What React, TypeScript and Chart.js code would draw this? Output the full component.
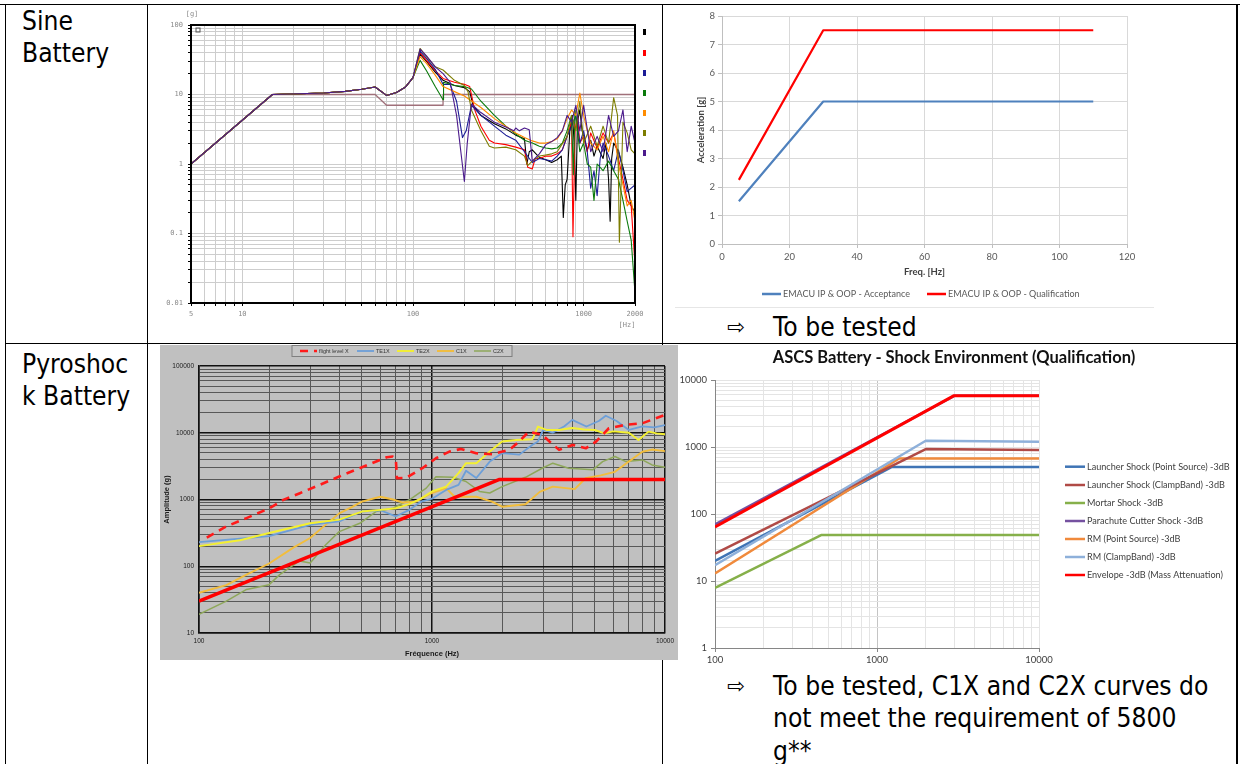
import React, { useEffect, useRef } from "react";
import { Chart, registerables } from "chart.js";

Chart.register(...registerables);

type Pt = [number, number];

/* ======================= DATA ======================= */

/* --- Sine Battery : measured responses (log-log) --- */
const SINE_X_LABELS = [5, 10, 100, 1000, 2000];
const SINE_Y_LABELS = [0.01, 0.1, 1, 10, 100];
const SINE_NAMES = ["Ch 1", "Ch 2", "Ch 3", "Ch 4", "Ch 5", "Ch 6", "Ch 7"];
const SINE_COLORS = ["#000000", "#ff0000", "#1c1c96", "#0b7a0b", "#ff8c00", "#7d7d00", "#4b1a8c"];
const SINE_PROFILE: Pt[] = [[5, 1], [15, 10], [60, 10], [70, 7], [150, 7], [150, 10], [2000, 10]];
const SINE_LOW: Pt[] = [[5, 1], [15, 10], [30, 10.5], [40, 11.1], [50, 11.9], [60, 12.8], [70, 9.7], [80, 10.7], [90, 12.7], [100, 17.5]];
const SINE_BLACK: Pt[] = [[110, 38], [120, 30], [135, 21], [150, 16], [175, 13.5], [200, 12.5], [215, 11], [225, 7], [250, 5], [300, 3.8], [350, 3.2], [400, 2.6], [450, 2.3], [465, 1.0], [480, 1.5], [500, 1.6], [550, 1.25], [600, 1.15], [650, 1.05], [700, 1.15], [740, 1.3], [760, 0.17], [780, 0.5], [800, 0.6], [830, 3], [860, 5], [880, 2], [900, 0.3], [920, 4], [950, 6], [980, 3], [1000, 2.5], [1050, 1.6], [1100, 2.2], [1150, 1.3], [1200, 1.8], [1300, 1.2], [1350, 2], [1400, 0.6], [1430, 0.15], [1460, 1.2], [1500, 2], [1600, 1.5], [1700, 0.9], [1800, 0.5], [1900, 0.25], [2000, 0.2]];
const SINE_RED: Pt[] = [[110, 40], [120, 31], [135, 22], [150, 17], [175, 15], [200, 14], [215, 13], [230, 6], [250, 3.5], [280, 2.2], [300, 2.0], [350, 1.9], [400, 1.75], [450, 1.6], [470, 0.9], [500, 0.85], [520, 1.2], [550, 1.2], [600, 1.3], [650, 1.3], [700, 1.4], [750, 1.6], [800, 2.5], [850, 4], [866, 0.09], [890, 3], [920, 5], [950, 2], [1000, 2.5], [1050, 1.5], [1100, 2.8], [1200, 1.7], [1300, 2.8], [1400, 2], [1500, 2.8], [1600, 1.2], [1700, 0.6], [1800, 0.3], [1900, 0.25], [2000, 0.035]];
const SINE_NAVY: Pt[] = [[110, 42], [120, 33], [135, 23], [150, 14], [165, 14], [180, 8], [195, 2.4], [205, 3], [220, 7], [250, 5], [300, 3.5], [350, 2.6], [400, 2.2], [450, 1.5], [500, 1.05], [550, 1.2], [600, 1.15], [650, 1.1], [700, 1.3], [750, 1.6], [800, 2.5], [850, 3.5], [900, 5], [950, 2], [1000, 3], [1050, 1.5], [1100, 0.45], [1150, 0.8], [1200, 0.35], [1250, 1.2], [1300, 2], [1400, 1.3], [1500, 0.8], [1600, 1.6], [1700, 0.8], [1800, 0.4], [1900, 0.45], [2000, 0.5]];
const SINE_GREEN: Pt[] = [[110, 31], [120, 22], [135, 13], [150, 8.4], [151, 15], [175, 13.5], [200, 13], [220, 12], [250, 8], [300, 5], [350, 3.5], [400, 2.7], [450, 2.2], [500, 2.0], [550, 1.8], [600, 1.7], [650, 1.65], [700, 1.7], [750, 2], [800, 3], [850, 5], [870, 0.7], [890, 6], [920, 3], [950, 1.5], [1000, 2], [1050, 1], [1100, 0.9], [1150, 0.3], [1200, 1], [1300, 0.8], [1400, 1.1], [1500, 0.8], [1600, 0.6], [1700, 0.3], [1800, 0.15], [1900, 0.08], [2000, 0.014]];
const SINE_ORANGE: Pt[] = [[110, 35], [120, 28], [135, 19], [150, 13], [175, 11], [200, 9.5], [250, 6.5], [300, 4.5], [350, 3.5], [400, 2.8], [450, 2.4], [500, 2.15], [550, 2.0], [600, 2.0], [650, 2.1], [700, 2.3], [750, 3], [800, 4.5], [850, 6], [900, 5], [950, 10.5], [1000, 5], [1050, 3], [1100, 2], [1200, 1.6], [1300, 2.5], [1400, 1.5], [1500, 3], [1600, 1], [1700, 0.5], [1800, 0.25], [1900, 0.3], [2000, 0.15]];
const SINE_OLIVE: Pt[] = [[110, 46], [120, 35], [135, 25], [150, 22.5], [175, 16], [200, 13.5], [210, 11], [220, 6], [250, 3], [280, 1.8], [300, 1.7], [350, 1.75], [400, 1.6], [450, 1.3], [470, 0.95], [500, 1.1], [550, 1.3], [600, 1.35], [650, 1.4], [700, 1.5], [800, 2.5], [850, 5], [900, 3], [950, 8], [1000, 2], [1100, 3.5], [1200, 1.8], [1300, 3.5], [1400, 2], [1500, 9], [1580, 5], [1620, 0.075], [1700, 4], [1800, 2.8], [1900, 1.6], [2000, 1.4]];
const SINE_PURPLE: Pt[] = [[110, 45], [120, 36], [135, 25], [150, 20], [165, 15], [180, 5], [200, 0.56], [208, 2], [220, 7.3], [250, 5.5], [300, 4], [350, 3.4], [390, 3.0], [400, 3.3], [420, 3.0], [450, 3.3], [480, 3.1], [500, 1.1], [550, 1.4], [600, 1.9], [650, 2.1], [700, 2.4], [750, 3], [800, 5], [850, 4], [900, 7], [950, 3], [1000, 7], [1100, 1.5], [1200, 2.5], [1300, 1.5], [1400, 5], [1500, 2.5], [1600, 3], [1700, 6], [1800, 1.5], [1900, 3.5], [2000, 2]];

/* --- Sine Battery : EMACU specification --- */
const ACC_FREQ = [5, 30, 110];
const ACC_ACCEPTANCE = [1.5, 5, 5];
const ACC_QUALIFICATION = [2.25, 7.5, 7.5];

/* --- Pyroshock Battery : SRS test results --- */
const PYRO_X_LABELS = [100, 1000, 10000];
const PYRO_Y_LABELS = [10, 100, 1000, 10000, 100000];
const PYRO_SPEC: Pt[] = [[100, 30], [1950, 2000], [10000, 2000]];
const PYRO_FLIGHT: Pt[] = [[108, 268], [131, 395], [160, 526], [201, 741], [230, 988], [271, 1244], [330, 1660], [400, 2208], [489, 2944], [576, 3706], [640, 4300], [679, 4397], [700, 3925], [707, 2085], [773, 2100], [909, 2944], [1040, 4150], [1188, 5224], [1332, 5725], [1546, 4935], [1813, 4770], [2150, 5537], [2367, 7379], [2604, 10400], [2975, 9287], [3195, 7379], [3512, 5537], [4013, 6575], [4585, 5870], [5059, 7379], [5743, 11670], [6750, 13100], [7996, 13870], [10000, 18480]];
const PYRO_TE1X: Pt[] = [[100, 230], [150, 260], [200, 283], [300, 417], [400, 469], [500, 660], [600, 690], [700, 560], [800, 700], [900, 930], [1000, 1030], [1150, 1390], [1300, 1660], [1400, 2700], [1550, 2100], [1770, 3700], [2000, 4950], [2370, 4700], [2700, 6600], [2850, 7400], [3000, 11000], [3300, 10000], [3700, 12500], [4000, 15600], [4600, 12400], [5200, 15000], [5570, 18000], [6200, 15000], [7000, 11000], [8000, 12500], [9000, 12000], [10000, 13000]];
const PYRO_TE2X: Pt[] = [[100, 200], [150, 245], [200, 315], [300, 440], [400, 500], [500, 660], [600, 700], [700, 740], [800, 850], [900, 1040], [1000, 1320], [1150, 1560], [1300, 2480], [1400, 3500], [1550, 3500], [1770, 5240], [2000, 7380], [2300, 7800], [2700, 8000], [2850, 12400], [3100, 11000], [3500, 11000], [4000, 11800], [4500, 11200], [5000, 11000], [5500, 9800], [6000, 10500], [7000, 10000], [7700, 7800], [8500, 10400], [9200, 9800], [10000, 9500]];
const PYRO_C1X: Pt[] = [[100, 40], [131, 52], [160, 75], [200, 110], [254, 190], [300, 265], [350, 420], [400, 620], [457, 780], [500, 930], [600, 1100], [680, 1000], [750, 900], [850, 930], [1000, 1250], [1150, 1480], [1250, 1100], [1550, 1100], [1810, 930], [2000, 780], [2520, 850], [2900, 1300], [3300, 1560], [4100, 1430], [4560, 2080], [5300, 2300], [6100, 2600], [7000, 3700], [8000, 5200], [8800, 5600], [10000, 5300]];
const PYRO_C2X: Pt[] = [[100, 19], [131, 30], [160, 45], [200, 53], [222, 75], [270, 120], [300, 112], [350, 210], [400, 330], [490, 440], [575, 660], [680, 740], [800, 990], [945, 1480], [1040, 2200], [1230, 2150], [1400, 1860], [1600, 1320], [1770, 1250], [2000, 1560], [2520, 2150], [2970, 2940], [3300, 3500], [3860, 2940], [4900, 2780], [5400, 3700], [6100, 4400], [6800, 3700], [8000, 3920], [8800, 3300], [10000, 3050]];

/* --- ASCS Battery - Shock Environment (Qualification) --- */
const ASCS_X_LABELS = [100, 1000, 10000];
const ASCS_Y_LABELS = [1, 10, 100, 1000, 10000];
const ASCS_LAUNCH_POINT: Pt[] = [[100, 20], [1236, 505], [10000, 505]];
const ASCS_LAUNCH_CLAMP: Pt[] = [[100, 25.7], [2000, 930], [10000, 900]];
const ASCS_MORTAR: Pt[] = [[100, 7.9], [452, 48.5], [10000, 48.5]];
const ASCS_PARACHUTE: Pt[] = [[100, 70], [3000, 5800], [10000, 5800]];
const ASCS_RM_POINT: Pt[] = [[100, 13], [1370, 675], [10000, 675]];
const ASCS_RM_CLAMP: Pt[] = [[100, 17.2], [2000, 1240], [10000, 1200]];
const ASCS_ENVELOPE: Pt[] = [[100, 64], [2970, 5800], [10000, 5800]];

/* --- document text --- */
const LABEL_SINE = ["Sine", "Battery"];
const LABEL_PYRO = ["Pyroshoc", "k Battery"];
const NOTE_TOP = ["To be tested"];
const NOTE_BOTTOM = ["To be tested, C1X and C2X curves do", "not meet the requirement of 5800", "g**"];

/* ======================= HELPERS ======================= */

const MONO = "'DejaVu Sans Mono', monospace";
const ARIAL = "'Liberation Sans', Arial, sans-serif";
const CAL = "Lato, 'Open Sans', sans-serif";
const BODY = "'DejaVu Sans', Verdana, sans-serif";

const toXY = (pts: Pt[]) => pts.map(([x, y]) => ({ x, y }));

function logGridValues(min: number, max: number): number[] {
  const out: number[] = [];
  const e0 = Math.floor(Math.log10(min) + 1e-9);
  const e1 = Math.ceil(Math.log10(max) - 1e-9);
  for (let e = e0; e <= e1; e++) {
    for (let m = 1; m < 10; m++) {
      const v = parseFloat((m * Math.pow(10, e)).toPrecision(6));
      if (v >= min * (1 - 1e-9) && v <= max * (1 + 1e-9)) out.push(v);
    }
  }
  return out;
}
const isDecade = (v: number) => Math.abs(Math.log10(v) - Math.round(Math.log10(v))) < 1e-6;

function logAxis(p: any) {
  const val = (c: any) => (c && c.tick ? c.tick.value : 1);
  return {
    type: "logarithmic",
    min: p.min,
    max: p.max,
    afterBuildTicks: (s: any) => {
      s.ticks = logGridValues(p.min, p.max).map((v) => ({ value: v }));
    },
    afterFit: (s: any) => {
      if (p.horizontal) s.height = p.size;
      else s.width = p.size;
    },
    ticks: {
      autoSkip: false,
      maxRotation: 0,
      minRotation: 0,
      padding: p.pad,
      font: p.font,
      color: p.color,
      callback: (v: number) => (p.labels.includes(v) ? String(v) : ""),
    },
    grid: {
      color: (c: any) => p.grid(val(c)),
      lineWidth: (c: any) => (p.gridW ? p.gridW(val(c)) : 1),
      drawTicks: p.tickLen > 0,
      tickLength: p.tickLen,
      tickWidth: 1,
      tickColor: (c: any) => (p.tick ? p.tick(val(c)) : p.grid(val(c))),
    },
    border: p.border,
    title: p.title || { display: false },
  };
}

function baseOptions(padding: any) {
  return {
    responsive: false,
    animation: false,
    events: [],
    layout: { padding, autoPadding: false },
    plugins: { legend: { display: false }, tooltip: { enabled: false }, title: { display: false } },
    elements: { point: { radius: 0 }, line: { tension: 0, borderJoinStyle: "round" } },
  };
}

function line(label: string, pts: Pt[], color: string, width: number, extra: any = {}) {
  return { label, data: toXY(pts), borderColor: color, backgroundColor: color, borderWidth: width, pointRadius: 0, fill: false, ...extra };
}

function overlay(cfg: any) {
  return {
    id: "overlay",
    beforeDraw(chart: any) {
      if (!cfg.background) return;
      const c = chart.ctx;
      c.save();
      c.fillStyle = cfg.background;
      c.fillRect(0, 0, chart.width, chart.height);
      c.restore();
    },
    afterDraw(chart: any) {
      const c = chart.ctx;
      const a = chart.chartArea;
      c.save();
      if (cfg.frame) {
        c.strokeStyle = cfg.frame.color;
        c.lineWidth = cfg.frame.width;
        c.strokeRect(a.left, a.top, a.right - a.left, a.bottom - a.top);
      }
      if (cfg.marks) {
        cfg.marks.forEach((m: any) => {
          c.strokeStyle = m.color;
          c.lineWidth = 1;
          c.strokeRect(m.x, m.y, m.w, m.h);
        });
      }
      if (cfg.box) {
        const b = cfg.box;
        c.fillStyle = b.fill;
        c.fillRect(b.x, b.y, b.w, b.h);
        c.strokeStyle = b.stroke;
        c.lineWidth = 1;
        c.strokeRect(b.x, b.y, b.w, b.h);
      }
      if (cfg.legend) {
        const L = cfg.legend;
        L.items.forEach((it: any) => {
          const ds = chart.data.datasets[it.ds];
          c.save();
          c.strokeStyle = ds.borderColor;
          c.lineWidth = L.lineWidth || ds.borderWidth;
          c.setLineDash(ds.borderDash || []);
          c.beginPath();
          c.moveTo(it.x, it.y);
          c.lineTo(it.x + L.len, it.y);
          c.stroke();
          c.restore();
          c.fillStyle = L.color;
          c.font = L.font;
          c.textAlign = "left";
          c.textBaseline = "middle";
          c.fillText(ds.label, it.x + L.len + L.gap, it.y);
        });
      }
      if (cfg.squares) {
        const S = cfg.squares;
        S.ys.forEach((y: number, i: number) => {
          c.fillStyle = chart.data.datasets[i].borderColor;
          c.fillRect(S.x, y, S.w, S.h);
        });
      }
      if (cfg.texts) {
        cfg.texts.forEach((t: any) => {
          c.font = t.font;
          c.fillStyle = t.color;
          c.textAlign = t.align || "center";
          c.textBaseline = "middle";
          c.fillText(t.text, t.x, t.y);
        });
      }
      c.restore();
    },
  };
}

/* ======================= CHART CONFIGS ======================= */

function sineConfig() {
  const tails = [SINE_BLACK, SINE_RED, SINE_NAVY, SINE_GREEN, SINE_ORANGE, SINE_OLIVE, SINE_PURPLE];
  const datasets: any[] = tails.map((t, i) => line(SINE_NAMES[i], [...SINE_LOW, ...t], SINE_COLORS[i], 1.1, { order: 7 - i }));
  datasets.push(line("Profile", SINE_PROFILE, "#a0707a", 1.3, { order: 10 }));
  const common = { font: { family: MONO, size: 7 }, color: "#8a8a8a", tickLen: 3, grid: () => "#cdcdcd", tick: () => "#000000", border: { display: true, color: "#000", width: 2 } };
  return {
    type: "line",
    data: { datasets },
    options: {
      ...baseOptions({ left: 0, top: 19, right: 15, bottom: 1 }),
      scales: {
        x: logAxis({ ...common, min: 5, max: 2000, labels: SINE_X_LABELS, horizontal: true, size: 32, pad: 4 }),
        y: logAxis({ ...common, min: 0.01, max: 100, labels: SINE_Y_LABELS, horizontal: false, size: 36, pad: 5 }),
      },
    },
    plugins: [
      overlay({
        frame: { color: "#000", width: 2 },
        marks: [{ x: 41, y: 22, w: 4, h: 4, color: "#555" }],
        squares: { x: 488, w: 3, h: 6, ys: [23, 44, 64, 84, 104, 124, 144] },
        texts: [
          { text: "[g]", x: 37, y: 8, font: `7px ${MONO}`, color: "#8a8a8a" },
          { text: "[Hz]", x: 472, y: 319, font: `7px ${MONO}`, color: "#8a8a8a" },
        ],
      }),
    ],
  };
}

function accConfig() {
  const acc: Pt[] = ACC_FREQ.map((f, i) => [f, ACC_ACCEPTANCE[i]]);
  const qual: Pt[] = ACC_FREQ.map((f, i) => [f, ACC_QUALIFICATION[i]]);
  const tickFont = { family: CAL, size: 9.5 };
  const titleFont = { family: CAL, size: 9.5, weight: "bold" };
  return {
    type: "line",
    data: {
      datasets: [
        line("EMACU IP & OOP - Acceptance", acc, "#4f81bd", 2.2),
        line("EMACU IP & OOP - Qualification", qual, "#ff0000", 2.2),
      ],
    },
    options: {
      ...baseOptions({ left: 0, top: 11, right: 27, bottom: 23 }),
      scales: {
        x: {
          type: "linear", min: 0, max: 120,
          afterFit: (s: any) => { s.height = 40; },
          ticks: { stepSize: 20, font: tickFont, color: "#595959", padding: 3.6, maxRotation: 0 },
          grid: { color: "#d9d9d9", tickLength: 4, tickColor: "#bfbfbf" },
          border: { color: "#bfbfbf" },
          title: { display: true, text: "Freq. [Hz]", font: titleFont, color: "#404040", padding: { top: 0, bottom: 6.3 } },
        },
        y: {
          type: "linear", min: 0, max: 8,
          afterFit: (s: any) => { s.width = 47; },
          ticks: { stepSize: 1, font: tickFont, color: "#595959", padding: 3 },
          grid: { color: "#d9d9d9", tickLength: 4, tickColor: "#bfbfbf" },
          border: { color: "#bfbfbf" },
          title: { display: true, text: "Acceleration [g]", font: titleFont, color: "#404040", padding: { top: 20.3, bottom: 0 } },
        },
      },
    },
    plugins: [
      overlay({
        legend: { len: 19, gap: 2, lineWidth: 2.5, font: `9px ${CAL}`, color: "#595959", items: [{ ds: 0, x: 87, y: 289 }, { ds: 1, x: 252, y: 289 }] },
      }),
    ],
  };
}

function pyroConfig() {
  const common = {
    font: { family: ARIAL, size: 6.5 }, color: "#1a1a1a", tickLen: 0,
    grid: (v: number) => (isDecade(v) ? "#111111" : "#585858"),
    gridW: (v: number) => (isDecade(v) ? 1.5 : 1),
    border: { display: true, color: "#111", width: 1.5 },
  };
  const tf = { family: ARIAL, size: 7.5, weight: "bold" };
  return {
    type: "line",
    data: {
      datasets: [
        line("flight level X", PYRO_FLIGHT, "#ff1a1a", 2.6, { borderDash: [8, 6], order: 1 }),
        line("TE1X", PYRO_TE1X, "#6d9fd8", 1.8, { order: 3 }),
        line("TE2X", PYRO_TE2X, "#f4f030", 1.9, { order: 2 }),
        line("C1X", PYRO_C1X, "#f2bd3c", 1.9, { order: 4 }),
        line("C2X", PYRO_C2X, "#8ea75a", 1.5, { order: 5 }),
        line("Spec", PYRO_SPEC, "#ff0000", 3.5, { order: 0 }),
      ],
    },
    options: {
      ...baseOptions({ left: 0, top: 21, right: 12, bottom: 0 }),
      scales: {
        x: logAxis({ ...common, min: 100, max: 10000, labels: PYRO_X_LABELS, horizontal: true, size: 27, pad: 4, title: { display: true, text: "Fréquence (Hz)", font: tf, color: "#1a1a1a", padding: { top: 0, bottom: 1.2 } } }),
        y: logAxis({ ...common, min: 10, max: 100000, labels: PYRO_Y_LABELS, horizontal: false, size: 39, pad: 5, title: { display: true, text: "Amplitude (g)", font: tf, color: "#1a1a1a", padding: { top: 2.2, bottom: 0 } } }),
      },
    },
    plugins: [
      overlay({
        background: "#c0c0c0",
        box: { x: 132, y: 0.5, w: 220, h: 11, fill: "#c6c6c6", stroke: "#7f7f7f" },
        legend: {
          len: 17, gap: 2, font: `5.5px ${ARIAL}`, color: "#333",
          items: [{ ds: 0, x: 140, y: 6 }, { ds: 1, x: 197, y: 6 }, { ds: 2, x: 237, y: 6 }, { ds: 3, x: 277, y: 6 }, { ds: 4, x: 314, y: 6 }],
        },
      }),
    ],
  };
}

function ascsConfig() {
  const common = {
    font: { family: CAL, size: 9.5 }, color: "#404040", tickLen: 4,
    tick: (v: number) => (isDecade(v) ? "#868686" : "rgba(0,0,0,0)"),
    border: { display: true, color: "#868686", width: 1 },
  };
  return {
    type: "line",
    data: {
      datasets: [
        line("Launcher Shock (Point Source) -3dB", ASCS_LAUNCH_POINT, "#3f74b5", 2.5, { order: 5 }),
        line("Launcher Shock (ClampBand) -3dB", ASCS_LAUNCH_CLAMP, "#b04a46", 2.5, { order: 3 }),
        line("Mortar Shock -3dB", ASCS_MORTAR, "#86b04a", 2.5, { order: 6 }),
        line("Parachute Cutter Shock -3dB", ASCS_PARACHUTE, "#7551a0", 2.5, { order: 1 }),
        line("RM (Point Source) -3dB", ASCS_RM_POINT, "#f08a3c", 2.5, { order: 4 }),
        line("RM (ClampBand) -3dB", ASCS_RM_CLAMP, "#8eb0da", 2.5, { order: 2 }),
        line("Envelope -3dB (Mass Attenuation)", ASCS_ENVELOPE, "#ff0000", 3, { order: 0 }),
      ],
    },
    options: {
      ...baseOptions({ left: 0, top: 35, right: 198, bottom: 0 }),
      scales: {
        x: logAxis({ ...common, min: 100, max: 10000, labels: ASCS_X_LABELS, horizontal: true, size: 22, pad: 2.3, grid: (v: number) => (v === 1000 ? "#c4c4c4" : "#e4e4e4") }),
        y: logAxis({ ...common, min: 1, max: 10000, labels: ASCS_Y_LABELS, horizontal: false, size: 39, pad: 4, grid: () => "#e4e4e4" }),
      },
    },
    plugins: [
      overlay({
        texts: [{ text: "ASCS Battery - Shock Environment (Qualification)", x: 278, y: 12.7, font: `bold 16.5px ${CAL}`, color: "#111" }],
        legend: {
          len: 20, gap: 2, lineWidth: 2.5, font: `9.1px ${CAL}`, color: "#404040",
          items: [121.7, 140, 158, 176, 194, 212, 230].map((y, i) => ({ ds: i, x: 389, y })),
        },
      }),
    ],
  };
}

/* ======================= COMPONENTS ======================= */

function ChartCanvas({ x, y, w, h, make }: { x: number; y: number; w: number; h: number; make: () => any }) {
  const ref = useRef<HTMLCanvasElement | null>(null);
  useEffect(() => {
    if (!ref.current) return;
    const chart = new Chart(ref.current, make() as any);
    return () => chart.destroy();
  }, []);
  return <canvas ref={ref} width={w} height={h} style={{ position: "absolute", left: x, top: y, width: w, height: h }} />;
}

const Rule = ({ x, y, w, h, c = "#000" }: { x: number; y: number; w: number; h: number; c?: string }) => (
  <div style={{ position: "absolute", left: x, top: y, width: w, height: h, background: c }} />
);

const Txt = ({ x, y, lines, lh = 32 }: { x: number; y: number; lines: string[]; lh?: number }) => (
  <div
    style={{
      position: "absolute", left: x, top: y, fontFamily: BODY, fontSize: 26, lineHeight: `${lh}px`,
      color: "#000", whiteSpace: "pre", transform: "scaleX(0.905)", transformOrigin: "0 0",
    }}
  >
    {lines.map((l, i) => (
      <div key={i}>{l}</div>
    ))}
  </div>
);

const Arrow = ({ x, y }: { x: number; y: number }) => (
  <div style={{ position: "absolute", left: x, top: y, fontFamily: BODY, fontSize: 21, lineHeight: "32px", color: "#000" }}>⇨</div>
);

export default function App() {
  return (
    <div style={{ position: "absolute", left: 0, top: 0, width: 1240, height: 764, background: "#fff", overflow: "hidden" }}>
      <Rule x={0} y={3.5} w={1240} h={1.5} />
      <Rule x={4.5} y={3.5} w={1.5} h={761} />
      <Rule x={146.5} y={3.5} w={1.5} h={761} />
      <Rule x={661.5} y={3.5} w={1.5} h={761} />
      <Rule x={1236} y={3.5} w={1.5} h={761} />
      <Rule x={4.5} y={342.5} w={1233} h={1.5} />
      <Rule x={675} y={307} w={479} h={1} c="#e6e6e6" />

      <ChartCanvas x={155} y={6} w={495} h={330} make={sineConfig} />
      <ChartCanvas x={675} y={5} w={479} h={302} make={accConfig} />
      <ChartCanvas x={160} y={345} w={518} h={315} make={pyroConfig} />
      <ChartCanvas x={676} y={345} w={561} h={325} make={ascsConfig} />

      <Txt x={22} y={5} lines={LABEL_SINE} />
      <Txt x={22} y={348} lines={LABEL_PYRO} />
      <Arrow x={727} y={310.6} />
      <Txt x={773} y={311} lines={NOTE_TOP} />
      <Arrow x={727} y={670} />
      <Txt x={773} y={669.75} lines={NOTE_BOTTOM} lh={32.5} />
    </div>
  );
}
